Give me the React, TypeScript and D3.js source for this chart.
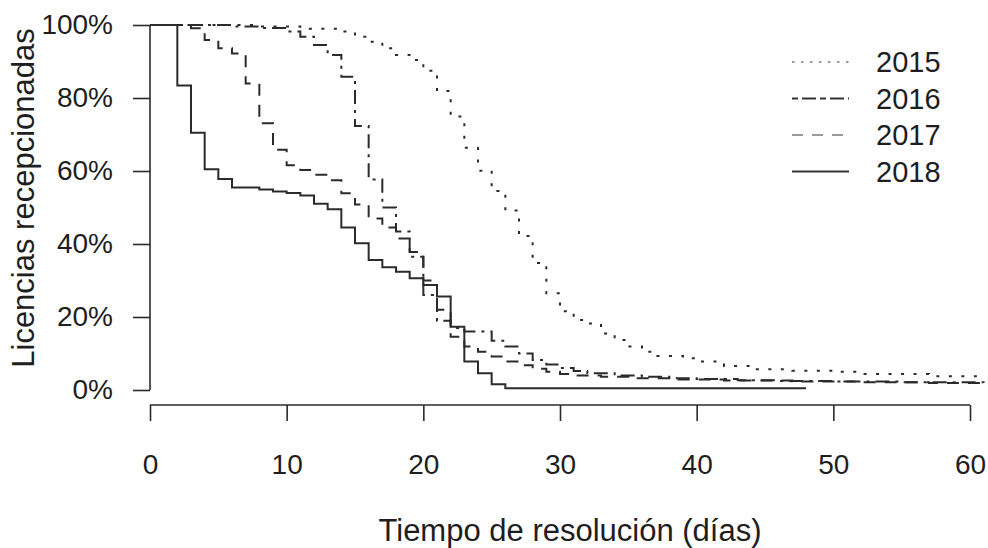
import { useEffect, useRef } from "react";
import * as d3 from "d3";

// survival-style step curves, % of licences still pending by day
const years = ["2015", "2016", "2017", "2018"];

const days2015 = [0, 8, 11, 14, 15, 16, 17, 18, 19, 20, 21, 22, 23, 24, 25, 26, 27, 28, 29, 30, 31, 32, 33, 34, 35, 36, 37, 39, 40, 42, 44, 47, 50, 52, 57, 61];
const pct2015 = [100, 99.6, 99.0, 98.2, 96.8, 95.4, 93.6, 91.8, 90.4, 87.5, 81.9, 74.9, 66.4, 60.1, 54.5, 49.2, 42.2, 34.8, 26.5, 21.6, 19.2, 18.2, 15.5, 13.7, 11.9, 10.5, 9.3, 8.7, 7.8, 6.6, 5.7, 5.3, 5.0, 4.4, 3.8, 3.5];

const days2016 = [0, 6, 8, 10, 11, 12, 13, 14, 15, 16, 17, 18, 19, 20, 21, 22, 23, 25, 26, 27, 28, 29, 30, 31, 32, 34, 36, 38, 40, 43, 46, 50, 55, 61];
const pct2016 = [100, 99.6, 99.2, 98.2, 96.8, 94.5, 91.8, 85.8, 72.3, 57.7, 50.0, 43.4, 36.5, 26.0, 19.0, 17.0, 16.0, 13.5, 11.9, 10.0, 8.2, 7.0, 6.0, 5.2, 4.6, 4.0, 3.6, 3.2, 3.0, 2.7, 2.5, 2.3, 2.1, 2.0];

const days2017 = [0, 3, 4, 5, 6, 7, 8, 9, 10, 11, 12, 13, 14, 15, 16, 17, 18, 19, 20, 21, 22, 23, 24, 25, 26, 27, 28, 29, 30, 31, 33, 35, 38, 42, 47, 52, 57, 61];
const pct2017 = [100, 99.1, 95.9, 93.6, 92.2, 84.0, 73.1, 65.8, 61.6, 60.3, 59.0, 57.5, 53.9, 50.8, 47.0, 44.5, 41.5, 37.8, 30.0, 22.0, 14.6, 11.9, 10.5, 9.2, 7.8, 6.8, 5.8, 5.0, 4.4, 4.0, 3.6, 3.2, 2.9, 2.6, 2.3, 2.1, 1.9, 1.8];

const days2018 = [0, 2, 3, 4, 5, 6, 8, 9, 10, 11, 12, 13, 14, 15, 16, 17, 18, 19, 20, 21, 22, 23, 24, 25, 26, 48];
const pct2018 = [100, 83.4, 70.5, 60.5, 57.8, 55.5, 54.9, 54.4, 54.0, 53.3, 51.0, 49.5, 44.5, 40.2, 35.6, 33.6, 32.4, 30.6, 28.8, 25.6, 17.3, 7.8, 4.6, 1.6, 0.5, 0.5];

const xTicks = [0, 10, 20, 30, 40, 50, 60];
const yTicks = [0, 20, 40, 60, 80, 100];

const series = [
  { year: years[0], days: days2015, pct: pct2015, dash: "3 9.5", legendDash: "2.5 6.5", legendColor: "#9a9a9a" },
  { year: years[1], days: days2016, pct: pct2016, dash: "3 6 14 6", legendDash: "6 4 14 4", legendColor: "#333" },
  { year: years[2], days: days2017, pct: pct2017, dash: "12 9", legendDash: "11 9", legendColor: "#9a9a9a" },
  { year: years[3], days: days2018, pct: pct2018, dash: null, legendDash: null, legendColor: "#333" },
];

const W = 988;
const H = 548;
const FONT = "Liberation Sans, Arial, Helvetica, sans-serif";

export default function App() {
  const svgRef = useRef<SVGSVGElement>(null);

  useEffect(() => {
    const svg = d3.select(svgRef.current);
    svg.selectAll("*").remove();

    const x = d3.scaleLinear().domain([0, 60]).range([150, 970]);
    const y = d3.scaleLinear().domain([0, 100]).range([390, 25]);
    const ink = "#2b2b2b";

    svg.append("rect").attr("width", W).attr("height", H).attr("fill", "#fff");

    // y axis
    const yAxis = svg
      .append("g")
      .attr("transform", "translate(150,0)")
      .call(
        d3
          .axisLeft(y)
          .tickValues(yTicks)
          .tickSize(17)
          .tickPadding(20)
          .tickFormat((d) => `${d}%`)
      );
    yAxis.select(".domain").attr("d", `M0,${y(0)}V${y(100)}`);
    yAxis.selectAll("line, path").attr("stroke", ink).attr("stroke-width", 1.6);
    yAxis
      .selectAll("text")
      .attr("font-family", FONT)
      .attr("font-size", 28)
      .attr("fill", "#1e1e1e");

    // x axis
    const xAxis = svg
      .append("g")
      .attr("transform", "translate(0,405)")
      .call(d3.axisBottom(x).tickValues(xTicks).tickSize(16).tickPadding(33));
    xAxis.select(".domain").attr("d", `M${x(0)},0H${x(60)}`);
    xAxis.selectAll("line, path").attr("stroke", ink).attr("stroke-width", 1.6);
    xAxis
      .selectAll("text")
      .attr("font-family", FONT)
      .attr("font-size", 28)
      .attr("fill", "#1e1e1e");

    // titles
    svg
      .append("text")
      .attr("x", 570)
      .attr("y", 541)
      .attr("text-anchor", "middle")
      .attr("font-family", FONT)
      .attr("font-size", 31)
      .attr("fill", "#1e1e1e")
      .text("Tiempo de resolución (días)");

    svg
      .append("text")
      .attr("transform", "translate(34,198) rotate(-90)")
      .attr("text-anchor", "middle")
      .attr("font-family", FONT)
      .attr("font-size", 31)
      .attr("fill", "#1e1e1e")
      .text("Licencias recepcionadas");

    // curves
    const line = d3
      .line<[number, number]>()
      .x((d) => x(d[0]))
      .y((d) => y(d[1]))
      .curve(d3.curveStepAfter);

    series.forEach((s) => {
      const pts = s.days.map((d, i) => [d, s.pct[i]] as [number, number]);
      svg
        .append("path")
        .datum(pts)
        .attr("d", line)
        .attr("fill", "none")
        .attr("stroke", ink)
        .attr("stroke-width", 2)
        .attr("stroke-dasharray", s.dash);
    });

    // legend
    const lg = svg.append("g").attr("transform", "translate(792,62)");
    series.forEach((s, i) => {
      const row = lg.append("g").attr("transform", `translate(0,${i * 36.5})`);
      row
        .append("line")
        .attr("x1", 0)
        .attr("x2", 57)
        .attr("stroke", s.legendColor)
        .attr("stroke-width", 1.8)
        .attr("stroke-dasharray", s.legendDash);
      row
        .append("text")
        .attr("x", 84)
        .attr("dy", "0.36em")
        .attr("font-family", FONT)
        .attr("font-size", 29)
        .attr("fill", "#1e1e1e")
        .text(s.year);
    });
  }, []);

  return (
    <div style={{ position: "absolute", left: 0, top: 0 }}>
      <svg ref={svgRef} width={W} height={H} viewBox={`0 0 ${W} ${H}`} />
    </div>
  );
}
